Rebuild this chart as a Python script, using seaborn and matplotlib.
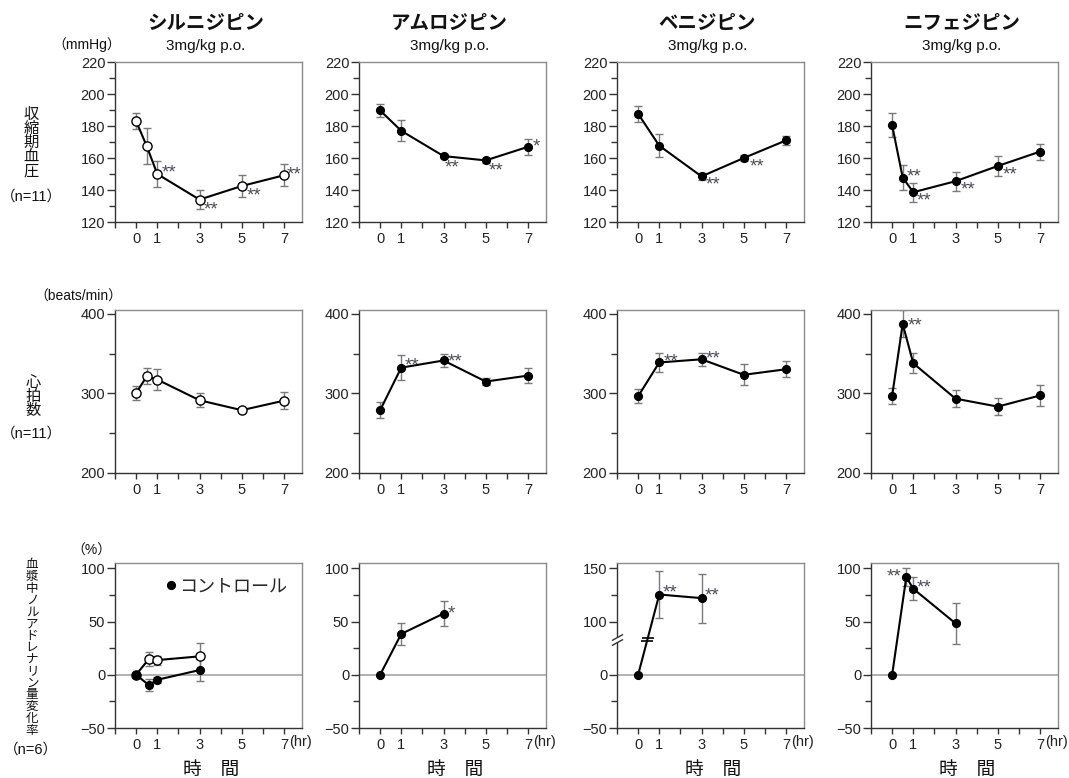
import numpy as np
import matplotlib
matplotlib.use("Agg")
import matplotlib.pyplot as plt
from matplotlib.lines import Line2D
import seaborn as sns

sns.set_style("ticks")
plt.rcParams["font.family"] = ["Liberation Sans", "Noto Sans CJK JP"]
plt.rcParams["axes.unicode_minus"] = True

W, H = 1069, 778

# ---------------------------------------------------------------- data
drugs = ["シルニジピン", "アムロジピン", "ベニジピン", "ニフェジピン"]
dose = "3mg/kg p.o."

t_six = [0, 0.5, 1, 3, 5, 7]
t_five = [0, 1, 3, 5, 7]

# systolic blood pressure (mmHg), mean and SE
sbp_cil = [183, 167.5, 150, 134, 142.5, 149.2]
sbp_cil_se = [5, 11, 8, 6, 7, 7]
sbp_aml = [189.7, 177, 161.2, 158.5, 167]
sbp_aml_se = [4, 6.5, 1.5, 1.6, 5]
sbp_ben = [187.6, 167.7, 148.5, 160, 171]
sbp_ben_se = [5, 7, 2, 2, 3]
sbp_nif = [180.5, 147.8, 138.6, 145.5, 155, 164]
sbp_nif_se = [7.5, 8, 6, 6, 6, 5]

# heart rate (beats/min), mean and SE
hr_cil = [300.5, 321.5, 317.5, 291.5, 279, 291]
hr_cil_se = [9, 10, 13, 9, 2, 11]
hr_aml = [279, 332.5, 341.5, 315, 322.5]
hr_aml_se = [10, 16, 8, 4.5, 9.5]
hr_ben = [296.5, 339, 343, 323.5, 330.5]
hr_ben_se = [9, 12, 8.5, 13, 10]
hr_nif = [297, 387.5, 338, 293.5, 283.5, 297.5]
hr_nif_se = [10.5, 17, 12.5, 11, 11, 13]

# plasma noradrenaline change (%), mean and SE
t_na_cil = [0, 0.6, 1, 3]
na_cil = [0, 14.8, 13.8, 17.3]
na_cil_se = [0, 6.5, 4.3, 12.5]
na_ctrl = [0, -9.7, -4.7, 4.4]
na_ctrl_se = [0, 5.3, 3, 10.7]
t_na_short = [0, 1, 3]
na_aml = [0, 38.4, 57.5]
na_aml_se = [0, 10, 12]
na_ben = [0, 125.4, 122]
na_ben_se = [0, 22, 23]
t_na_nif = [0, 0.67, 1, 3]
na_nif = [0, 91.8, 80.8, 48.3]
na_nif_se = [0, 8.5, 11, 19.5]

# significance marks: (point index, text, dx px, dy px)
sig_sbp = [
    [(2, "**", 12, 3), (3, "**", 12, -8), (4, "**", 12, -8), (5, "**", 10, 2)],
    [(2, "**", 9, -10), (3, "**", 10, -9), (4, "*", 8, 2)],
    [(2, "**", 12, -7), (3, "**", 13, -7)],
    [(1, "**", 11, 3), (2, "**", 11, -7), (3, "**", 13, -7), (4, "**", 12, -7)],
]
sig_hr = [
    [],
    [(1, "**", 11, 4), (2, "**", 12, 1)],
    [(1, "**", 12, 3), (2, "**", 12, 2)],
    [(1, "**", 12, 0)],
]
sig_na = [
    [],
    [(2, "*", 8, 2)],
    [(1, "**", 11, 4), (2, "**", 11, 4)],
    [(1, "**", -12, 2), (2, "**", 11, 3)],
]

# break on the noradrenaline axis of benidipine: 0..100 compressed
na_break_from = 100
na_break_shift = 50
na_break_level = 33

# ---------------------------------------------------------------- layout
col_left = [115, 359, 617, 871]
col_w = 187
row_top = [62, 310, 563]
row_h = [160, 163, 165]

fig = plt.figure(figsize=(W / 100, H / 100), dpi=100)


def fx(px):
    return px / W


def fy(py):
    return 1 - py / H


def make_axes(r, c):
    return fig.add_axes([fx(col_left[c]), fy(row_top[r] + row_h[r]),
                         col_w / W, row_h[r] / H])


def style(ax, ylim, major, minor, ylabels=None):
    ax.set_xlim(-1, 7.85)
    ax.set_xticks([0, 1, 3, 5, 7])
    ax.set_xticks([-1, 2, 4, 6], minor=True)
    ax.set_ylim(*ylim)
    ax.set_yticks(major)
    if ylabels is not None:
        ax.set_yticklabels(ylabels)
    ax.set_yticks(minor, minor=True)
    ax.tick_params(axis="x", which="both", length=4, width=1, color="#333333",
                   labelsize=10.5, labelcolor="#222222", pad=3)
    ax.tick_params(axis="y", which="major", length=6, width=1, color="#333333",
                   labelsize=10.5, labelcolor="#222222", pad=1)
    ax.tick_params(axis="y", which="minor", length=4, width=1, color="#333333")
    for side in ("left", "bottom"):
        ax.spines[side].set_color("#333333")
        ax.spines[side].set_linewidth(1.0)
    for side in ("top", "right"):
        ax.spines[side].set_visible(True)
        ax.spines[side].set_color("#8c8c8c")
        ax.spines[side].set_linewidth(1.0)


def series(ax, t, y, se, open_marker=False):
    ax.errorbar(t, y, yerr=se, fmt="none", ecolor="#7a7a7a", elinewidth=1,
                capsize=2.6, capthick=1, zorder=2)
    sns.lineplot(x=t, y=y, ax=ax, color="black", linewidth=1.5,
                 marker="o", markersize=6.6 if open_marker else 5.6,
                 markerfacecolor="white" if open_marker else "black",
                 markeredgecolor="black", markeredgewidth=1.0,
                 errorbar=None, zorder=3)


def stars(ax, t, y, marks):
    for i, s, dx, dy in marks:
        ax.annotate(s, (t[i], y[i]), xytext=(dx, dy), textcoords="offset pixels",
                    ha="center", va="center_baseline", fontsize=13.5,
                    color="#4d4d58", zorder=4)


sbp = [(t_six, sbp_cil, sbp_cil_se), (t_five, sbp_aml, sbp_aml_se),
       (t_five, sbp_ben, sbp_ben_se), (t_six, sbp_nif, sbp_nif_se)]
hr = [(t_six, hr_cil, hr_cil_se), (t_five, hr_aml, hr_aml_se),
      (t_five, hr_ben, hr_ben_se), (t_six, hr_nif, hr_nif_se)]

# ---------------------------------------------------------------- row 1 / row 2
for c in range(4):
    ax = make_axes(0, c)
    t, y, e = sbp[c]
    series(ax, t, y, e, open_marker=(c == 0))
    stars(ax, t, y, sig_sbp[c])
    style(ax, (120, 220), np.arange(120, 221, 20), np.arange(130, 220, 20))

    ax = make_axes(1, c)
    t, y, e = hr[c]
    series(ax, t, y, e, open_marker=(c == 0))
    stars(ax, t, y, sig_hr[c])
    style(ax, (200, 405), [200, 300, 400], [250, 350])

# ---------------------------------------------------------------- row 3
na_ylim = (-50, 105)
for c in range(4):
    ax = make_axes(2, c)
    ax.axhline(0, color="#9d9d9d", lw=1.1, zorder=1)
    if c == 0:
        series(ax, t_na_cil, na_cil, na_cil_se, open_marker=True)
        series(ax, t_na_cil, na_ctrl, na_ctrl_se)
        style(ax, na_ylim, [-50, 0, 50, 100], [-25, 25, 75],
              ["−50", "0", "50", "100"])
        handle = Line2D([], [], marker="o", color="black", ls="none", ms=5.6)
        ax.legend([handle], ["コントロール"], loc="upper right", frameon=False,
                  fontsize=13, handletextpad=0.05, handlelength=0.8,
                  borderaxespad=0.45)
    elif c == 1:
        series(ax, t_na_short, na_aml, na_aml_se)
        stars(ax, t_na_short, na_aml, sig_na[1])
        style(ax, na_ylim, [-50, 0, 50, 100], [-25, 25, 75],
              ["−50", "0", "50", "100"])
    elif c == 2:
        shown = [v - na_break_shift if v >= na_break_from else v for v in na_ben]
        series(ax, t_na_short, shown, na_ben_se)
        stars(ax, t_na_short, shown, sig_na[2])
        style(ax, na_ylim, [-50, 0, 50, 100], [-25, 75],
              ["−50", "0", "100", "150"])
        # break marks on the left spine and on the rising segment
        trans = ax.get_yaxis_transform()
        lo, hi = na_break_level - 2.5, na_break_level + 2.5
        ax.plot([0, 0], [lo, hi], transform=trans, color="white", lw=3,
                clip_on=False, zorder=6, solid_capstyle="butt")
        slash = [(-1, -0.55), (1, 0.55)]
        ax.plot([0, 0], [lo, hi], transform=trans, ls="none", marker=slash,
                ms=8, mew=1, color="#333333", clip_on=False, zorder=7)
        xb = np.interp([lo + 0.8, hi - 0.8], shown[:2], t_na_short[:2])
        ax.plot(xb, [lo + 0.8, hi - 0.8], ls="none", marker="_", ms=8, mew=1.2,
                color="black", zorder=5)
    else:
        series(ax, t_na_nif, na_nif, na_nif_se)
        stars(ax, t_na_nif, na_nif, sig_na[3])
        style(ax, na_ylim, [-50, 0, 50, 100], [-25, 25, 75],
              ["−50", "0", "50", "100"])
    ax.annotate("(hr)", (7, 0), xycoords=ax.get_xaxis_transform(),
                xytext=(5, -7), textcoords="offset pixels", ha="left",
                va="top", fontsize=10.5, color="#222222")
    fig.text(fx(col_left[c] + col_w / 2 + 3), fy(770), "時　間", ha="center",
             va="center", fontsize=13.5, color="#111111")

# ---------------------------------------------------------------- headers
for c in range(4):
    cx = fx(col_left[c] + col_w / 2 - 3)
    fig.text(cx, fy(24), drugs[c], ha="center", va="center", fontsize=14,
             fontweight="bold", color="#111111")
    fig.text(cx, fy(46), dose, ha="center", va="center", fontsize=11,
             color="#111111")

# row labels (vertical Japanese)
lab_kw = dict(ha="center", va="center", color="#111111")
fig.text(fx(31), fy(143), "\n".join("収縮期血圧"), fontsize=11,
         linespacing=1.0, **lab_kw)
fig.text(fx(31), fy(197), "（n=11）", fontsize=10.5, **lab_kw)
fig.text(fx(33), fy(397), "\n".join("心拍数"), fontsize=11,
         linespacing=1.0, **lab_kw)
fig.text(fx(31), fy(434), "（n=11）", fontsize=10.5, **lab_kw)
fig.text(fx(32), fy(648), "\n".join("血漿中ノルアドレナリン量変化率"),
         fontsize=9, linespacing=0.98, **lab_kw)
fig.text(fx(31), fy(750), "（n=6）", fontsize=10.5, **lab_kw)

# units
fig.text(fx(87), fy(45), "（mmHg）", fontsize=10, **lab_kw)
fig.text(fx(78), fy(297), "（beats/min）", fontsize=10, **lab_kw)
fig.text(fx(91), fy(551), "（%）", fontsize=10, **lab_kw)

fig.savefig("out.png", dpi=100, facecolor="white")
